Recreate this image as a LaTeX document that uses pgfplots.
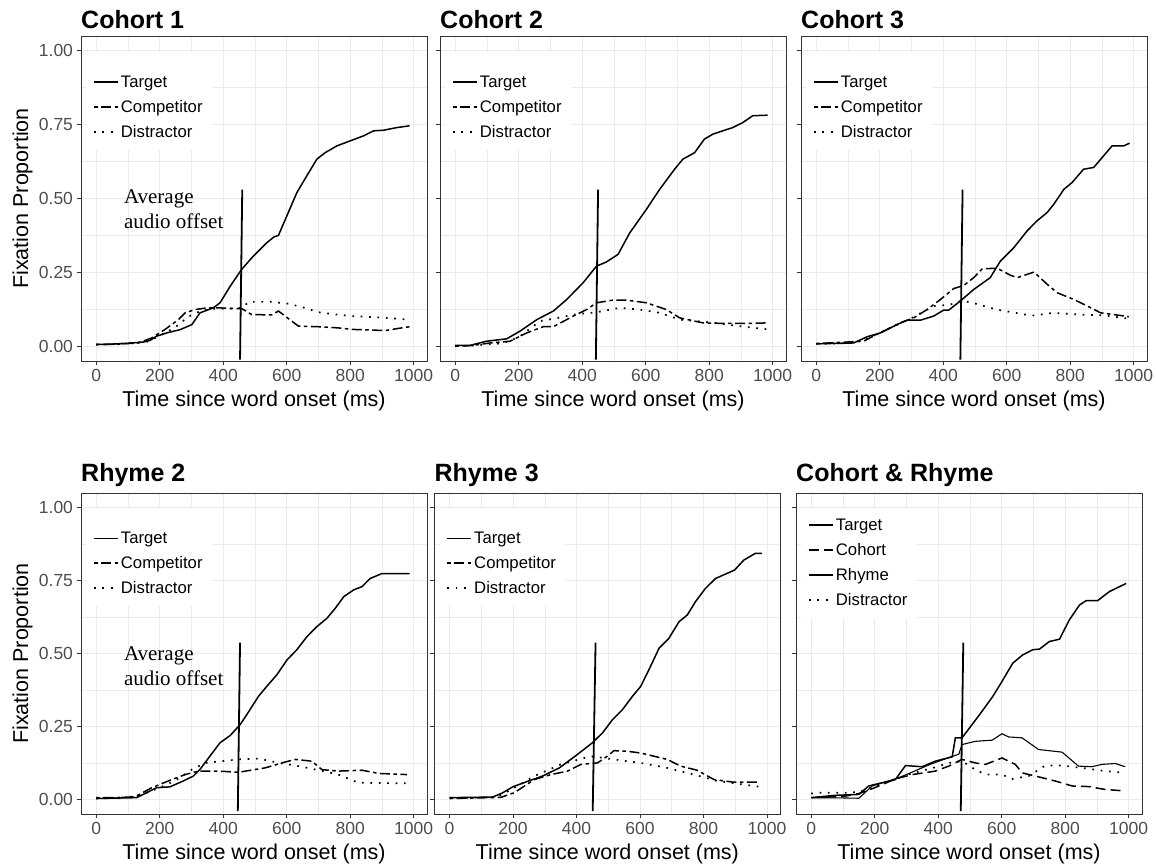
\documentclass[border=0pt]{standalone}
\usepackage{fontspec}
\setmainfont{Liberation Sans}
\newfontfamily\annfont{Liberation Serif}
\usepackage{pgfplots}
\pgfplotsset{compat=1.18}

\definecolor{gridgray}{HTML}{EBEBEB}
\definecolor{framegray}{HTML}{333333}
\definecolor{tickgray}{HTML}{4D4D4D}

\pgfplotsset{
  panel/.style={
    scale only axis, width=346pt, height=325pt,
    xmin=-48, xmax=1042, ymin=-0.05, ymax=1.05,
    xtick={0,200,400,600,800,1000},
    ytick={0,0.25,0.5,0.75,1},
    minor xtick={100,300,500,700,900},
    minor ytick={0.125,0.375,0.625,0.875},
    grid=both,
    major grid style={draw=gridgray, line width=0.9pt},
    minor grid style={draw=gridgray, line width=0.5pt},
    axis line style={draw=framegray, line width=0.8pt},
    every tick/.style={draw=framegray, line width=0.8pt},
    tick align=outside,
    major tick length=4.5pt, minor tick length=0pt,
    xtick pos=bottom, ytick pos=left,
    /pgf/number format/assume math mode=true,
    /pgf/number format/1000 sep={},
    tick label style={font=\fontsize{17.5}{20}\selectfont, text=tickgray},
    yticklabel style={/pgf/number format/fixed, /pgf/number format/fixed zerofill, /pgf/number format/precision=2},
    xlabel={Time since word onset (ms)},
    xlabel style={at={(axis description cs:0.5,0)}, anchor=base, yshift=-46pt, font=\fontsize{21.5}{25}\selectfont},
    ylabel style={at={(axis description cs:-0.153,0.5)}, anchor=base, font=\fontsize{21.5}{25}\selectfont},
    title style={at={(axis description cs:0,1)}, anchor=base west, yshift=1pt, inner sep=0pt, font=\fontsize{25}{30}\selectfont\bfseries},
    legend cell align=left,
    legend style={fill=white, draw=none, anchor=north west, inner xsep=7pt, inner ysep=11pt, row sep=11.5pt,
      font=\fontsize{16.7}{19}\selectfont, nodes={inner xsep=2pt, inner ysep=0pt}},
    legend image code/.code={\path (0pt,0pt) -- (24pt,0pt);\draw[#1] (0pt,0pt) -- (21pt,0pt);},
  },
  row two/.style={height=321pt, title style={yshift=4pt}},
  no y labels/.style={yticklabels={,,,,,}},
  target/.style={black, line width=1.5pt},
  compet/.style={black, line width=1.5pt, dash pattern=on 3.5pt off 3.5pt on 10pt off 3.5pt},
  distr/.style={black, line width=1.7pt, dash pattern=on 1.7pt off 6.7pt},
  cohortline/.style={black, line width=1.5pt, dash pattern=on 10pt off 5pt},
  rhymeline/.style={black, line width=1.1pt},
  offsetline/.style={black, line width=1.8pt, forget plot},
}

\begin{document}
\begin{tikzpicture}
\useasboundingbox (0,0) rectangle (1156pt,866pt);

% ---------------- Cohort 1 ----------------
\begin{axis}[panel, at={(81pt,505pt)}, anchor=south west,
  title={Cohort 1}, ylabel={Fixation Proportion},
  legend style={at={(axis description cs:0.0145,0.951)}}]
\addlegendimage{empty legend}\addlegendentry[text height=1pt, text depth=0pt]{}
\addplot[target] coordinates {(0,0.006)(50,0.007)(100,0.01)(148,0.014)(170,0.02)(190,0.034)(222,0.045)(264,0.056)(301,0.073)(327,0.113)(369,0.13)(390,0.147)(422,0.203)(458,0.26)(495,0.305)(537,0.35)(560,0.37)(574,0.375)(600,0.44)(632,0.52)(663,0.576)(695,0.633)(721,0.655)(758,0.678)(800,0.695)(842,0.712)(874,0.729)(905,0.731)(947,0.74)(987,0.746)};
\addlegendentry{Target}
\addplot[compet] coordinates {(0,0.006)(50,0.006)(100,0.009)(132,0.011)(175,0.028)(217,0.057)(259,0.09)(280,0.113)(311,0.124)(350,0.13)(385,0.13)(420,0.128)(459,0.127)(490,0.107)(553,0.106)(574,0.119)(595,0.102)(637,0.068)(700,0.066)(763,0.062)(805,0.057)(860,0.055)(911,0.053)(950,0.06)(987,0.066)};
\addlegendentry{Competitor}
\addplot[distr] coordinates {(0,0.005)(50,0.007)(100,0.01)(160,0.015)(200,0.035)(250,0.065)(290,0.1)(330,0.12)(370,0.127)(420,0.127)(460,0.13)(480,0.15)(550,0.15)(600,0.145)(650,0.132)(700,0.115)(750,0.108)(805,0.102)(900,0.097)(987,0.09)};
\addlegendentry{Distractor}
\addplot[offsetline] coordinates {(453,-0.045)(460,0.53)};
\node[anchor=north west, align=left, inner sep=0pt, font=\annfont\fontsize{21}{25}\selectfont] at (axis cs:87,0.53) {Average\\audio offset};
\end{axis}

% ---------------- Cohort 2 ----------------
\begin{axis}[panel, no y labels, at={(440pt,505pt)}, anchor=south west,
  title={Cohort 2},
  legend style={at={(axis description cs:0.0145,0.951)}}]
\addlegendimage{empty legend}\addlegendentry[text height=1pt, text depth=0pt]{}
\addplot[target] coordinates {(0,0.003)(47,0.003)(99,0.017)(162,0.025)(204,0.051)(257,0.09)(309,0.119)(351,0.158)(403,0.215)(445,0.271)(476,0.285)(513,0.311)(550,0.384)(602,0.463)(644,0.531)(691,0.599)(717,0.633)(754,0.655)(785,0.701)(812,0.718)(874,0.74)(906,0.757)(937,0.78)(984,0.782)};
\addlegendentry{Target}
\addplot[compet] coordinates {(0,0.0)(50,0.002)(110,0.011)(173,0.017)(225,0.045)(277,0.066)(309,0.066)(372,0.102)(414,0.124)(445,0.147)(497,0.156)(539,0.156)(602,0.147)(665,0.124)(707,0.096)(780,0.079)(853,0.077)(920,0.077)(984,0.079)};
\addlegendentry{Competitor}
\addplot[distr] coordinates {(0,0.0)(50,0.002)(100,0.006)(150,0.01)(200,0.03)(230,0.055)(267,0.085)(320,0.095)(372,0.107)(445,0.115)(518,0.13)(581,0.124)(644,0.113)(707,0.09)(791,0.082)(895,0.068)(984,0.057)};
\addlegendentry{Distractor}
\addplot[offsetline] coordinates {(443,-0.045)(450,0.53)};
\end{axis}

% ---------------- Cohort 3 ----------------
\begin{axis}[panel, no y labels, at={(801pt,505pt)}, anchor=south west,
  title={Cohort 3},
  legend style={at={(axis description cs:0.0145,0.951)}}]
\addlegendimage{empty legend}\addlegendentry[text height=1pt, text depth=0pt]{}
\addplot[target] coordinates {(0,0.008)(118,0.011)(160,0.032)(202,0.045)(254,0.073)(286,0.088)(328,0.088)(370,0.102)(401,0.122)(417,0.122)(454,0.153)(496,0.192)(548,0.232)(580,0.288)(622,0.333)(664,0.39)(695,0.424)(727,0.452)(748,0.48)(780,0.531)(806,0.554)(842,0.599)(874,0.605)(932,0.678)(968,0.678)(987,0.687)};
\addlegendentry{Target}
\addplot[compet] coordinates {(0,0.009)(149,0.017)(191,0.04)(265,0.079)(307,0.096)(349,0.124)(391,0.158)(433,0.195)(465,0.206)(496,0.232)(523,0.262)(570,0.264)(612,0.24)(633,0.232)(686,0.251)(728,0.209)(759,0.181)(812,0.158)(854,0.136)(896,0.113)(938,0.107)(985,0.1)};
\addlegendentry{Competitor}
\addplot[distr] coordinates {(0,0.008)(100,0.01)(150,0.02)(200,0.045)(250,0.07)(300,0.095)(349,0.124)(370,0.136)(420,0.14)(454,0.153)(485,0.149)(569,0.124)(659,0.107)(685,0.104)(748,0.113)(832,0.107)(900,0.105)(979,0.094)};
\addlegendentry{Distractor}
\addplot[offsetline] coordinates {(454,-0.045)(461,0.53)};
\end{axis}

% ---------------- Rhyme 2 ----------------
\begin{axis}[panel, row two, at={(81pt,52pt)}, anchor=south west,
  title={Rhyme 2}, ylabel={Fixation Proportion},
  legend style={at={(axis description cs:0.0145,0.953)}}]
\addlegendimage{empty legend}\addlegendentry[text height=1pt, text depth=0pt]{}
\addplot[target] coordinates {(0,0.003)(127,0.006)(159,0.023)(190,0.04)(232,0.043)(274,0.063)(306,0.08)(327,0.103)(358,0.148)(390,0.194)(422,0.219)(453,0.256)(474,0.29)(511,0.353)(537,0.387)(569,0.427)(601,0.478)(632,0.513)(664,0.558)(695,0.592)(727,0.621)(753,0.655)(780,0.695)(811,0.718)(837,0.729)(863,0.757)(900,0.774)(987,0.774)};
\addlegendentry{Target}
\addplot[compet] coordinates {(0,0.006)(60,0.006)(122,0.009)(175,0.04)(238,0.068)(280,0.085)(322,0.097)(385,0.097)(448,0.093)(532,0.108)(595,0.128)(627,0.137)(679,0.131)(711,0.102)(763,0.097)(837,0.1)(890,0.089)(979,0.085)};
\addlegendentry{Competitor}
\addplot[distr] coordinates {(0,0.003)(60,0.005)(120,0.01)(150,0.02)(200,0.04)(250,0.065)(301,0.102)(343,0.125)(448,0.137)(512,0.14)(575,0.125)(638,0.114)(701,0.1)(763,0.085)(826,0.057)(979,0.055)};
\addlegendentry{Distractor}
\addplot[offsetline] coordinates {(446,-0.04)(453,0.537)};
\node[anchor=north west, align=left, inner sep=0pt, font=\annfont\fontsize{21}{25}\selectfont] at (axis cs:87,0.525) {Average\\audio offset};
\end{axis}

% ---------------- Rhyme 3 ----------------
\begin{axis}[panel, row two, no y labels, at={(434.3pt,52pt)}, anchor=south west,
  title={Rhyme 3},
  legend style={at={(axis description cs:0.0145,0.953)}}]
\addlegendimage{empty legend}\addlegendentry[text height=1pt, text depth=0pt]{}
\addplot[target] coordinates {(0,0.006)(136,0.008)(168,0.023)(199,0.043)(241,0.06)(293,0.08)(346,0.108)(398,0.15)(450,0.194)(482,0.228)(513,0.273)(545,0.308)(576,0.353)(602,0.387)(628,0.444)(660,0.518)(691,0.552)(723,0.609)(749,0.632)(775,0.678)(806,0.723)(838,0.757)(869,0.772)(898,0.786)(927,0.82)(963,0.843)(984,0.843)};
\addlegendentry{Target}
\addplot[compet] coordinates {(0,0.003)(80,0.005)(162,0.007)(204,0.023)(267,0.068)(319,0.085)(372,0.097)(414,0.12)(466,0.125)(497,0.148)(518,0.167)(560,0.165)(602,0.159)(686,0.137)(728,0.114)(780,0.1)(833,0.068)(895,0.059)(974,0.059)};
\addlegendentry{Competitor}
\addplot[distr] coordinates {(0,0.006)(80,0.006)(150,0.008)(215,0.046)(267,0.08)(351,0.12)(445,0.148)(518,0.137)(602,0.125)(686,0.108)(770,0.085)(843,0.063)(979,0.043)};
\addlegendentry{Distractor}
\addplot[offsetline] coordinates {(451,-0.04)(460,0.537)};
\end{axis}

% ---------------- Cohort & Rhyme ----------------
\begin{axis}[panel, row two, no y labels, at={(796pt,52pt)}, anchor=south west,
  title={Cohort \& Rhyme},
  legend style={at={(axis description cs:0.0145,0.955)}}]
\addplot[target] coordinates {(0,0.006)(76,0.014)(150,0.017)(181,0.046)(265,0.068)(297,0.116)(349,0.112)(391,0.131)(444,0.146)(454,0.211)(475,0.211)(530,0.29)(572,0.353)(598,0.399)(635,0.467)(666,0.495)(698,0.513)(719,0.515)(750,0.541)(782,0.549)(813,0.615)(845,0.666)(866,0.681)(902,0.681)(939,0.712)(992,0.74)};
\addlegendentry{Target}
\addplot[cohortline] coordinates {(0,0.006)(100,0.01)(150,0.02)(200,0.04)(265,0.07)(318,0.085)(391,0.097)(433,0.114)(475,0.137)(517,0.125)(549,0.12)(601,0.142)(643,0.12)(664,0.091)(706,0.08)(769,0.063)(822,0.046)(874,0.044)(926,0.034)(989,0.029)};
\addlegendentry{Cohort}
\addplot[rhymeline] coordinates {(0,0.006)(100,0.005)(150,0.004)(192,0.046)(265,0.07)(300,0.085)(370,0.118)(412,0.135)(465,0.155)(475,0.188)(517,0.199)(570,0.203)(601,0.225)(622,0.214)(664,0.211)(716,0.171)(790,0.162)(842,0.114)(884,0.112)(916,0.12)(958,0.123)(989,0.112)};
\addlegendentry{Rhyme}
\addplot[distr] coordinates {(0,0.02)(24,0.023)(108,0.023)(150,0.025)(200,0.045)(265,0.07)(320,0.09)(391,0.11)(433,0.125)(475,0.131)(517,0.102)(549,0.085)(601,0.085)(633,0.07)(685,0.08)(737,0.116)(790,0.116)(873,0.105)(926,0.097)(989,0.091)};
\addlegendentry{Distractor}
\addplot[offsetline] coordinates {(471,-0.04)(479,0.537)};
\end{axis}
\end{tikzpicture}
\end{document}
